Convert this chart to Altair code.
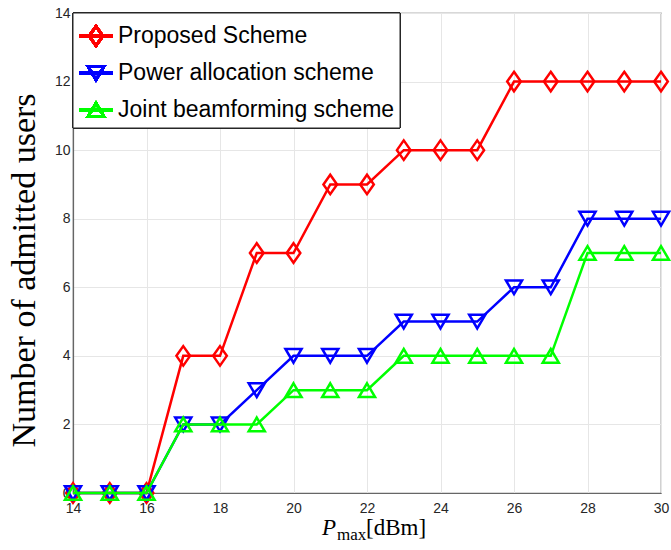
import altair as alt
import pandas as pd

x_vals = list(range(14, 31))
proposed = [0, 0, 0, 4, 4, 7, 7, 9, 9, 10, 10, 10, 12, 12, 12, 12, 12]
power = [0, 0, 0, 2, 2, 3, 4, 4, 4, 5, 5, 5, 6, 6, 8, 8, 8]
joint = [0, 0, 0, 2, 2, 2, 3, 3, 3, 4, 4, 4, 4, 4, 7, 7, 7]

names = ["Proposed Scheme", "Power allocation scheme", "Joint beamforming scheme"]
colors = ["#FF0000", "#0000FF", "#00FF00"]
shapes = [
    "M0,-1L0.7,0L0,1L-0.7,0Z",
    "M0,0.85L1,-0.85L-1,-0.85Z",
    "M0,-0.85L1,0.85L-1,0.85Z",
]
sizes = [380, 260, 260]

rows = []
for name, ys in zip(names, [proposed, power, joint]):
    for xv, yv in zip(x_vals, ys):
        rows.append({"x": xv, "y": yv, "series": name})
df = pd.DataFrame(rows)

W, H = 588, 480
xs = alt.X("x:Q", scale=alt.Scale(domain=[14, 30], nice=False),
           axis=alt.Axis(values=list(range(14, 31, 2)), title=None, grid=True,
                         labelFont="Liberation Sans", labelFontSize=14, labelColor="#262626",
                         labelPadding=8, labelFlush=False, ticks=False, domainColor="#666666",
                         domainWidth=1.2, gridColor="#e6e6e6", gridWidth=1, format="d"))
ys = alt.Y("y:Q", scale=alt.Scale(domain=[0, 14], nice=False),
           axis=alt.Axis(values=list(range(0, 15, 2)), title="Number of admitted users",
                         titleFont="Liberation Serif", titleFontSize=34, titleFontWeight="normal",
                         titleColor="#000000", titleX=-49, titleY=257, titleAngle=-90,
                         titleBaseline="middle", titleAlign="center",
                         grid=True, labelFont="Liberation Sans", labelFontSize=14, labelColor="#262626",
                         labelPadding=3, labelFlush=False, ticks=False, domainColor="#666666",
                         domainWidth=1.2, gridColor="#e6e6e6", gridWidth=1, format="d"))

layers = []
for name, c, shp, sz in zip(names, colors, shapes, sizes):
    base = alt.Chart(df).transform_filter(alt.datum.series == name)
    layers.append(base.mark_line(color=c, strokeWidth=2.5).encode(x=xs, y=ys))
    layers.append(base.mark_point(shape=shp, size=sz, color=c, filled=False, strokeWidth=2.5,
                                  opacity=1).encode(x=xs, y=ys))

# legend
legend_box = alt.Chart(df).mark_rect(fill="white", stroke="#262626", strokeWidth=1).encode(
    x=alt.value(0), x2=alt.value(327), y=alt.value(0), y2=alt.value(115))
layers.append(legend_box)
leg_y = [23, 60, 97]
for name, c, shp, sz, ly in zip(names, colors, shapes, sizes, leg_y):
    layers.append(alt.Chart(df).mark_rule(color=c, strokeWidth=2.5).encode(
        x=alt.value(6), x2=alt.value(40), y=alt.value(ly)))
    layers.append(alt.Chart(df).mark_point(shape=shp, size=sz, color=c, filled=False,
                                           strokeWidth=2.5, opacity=1).encode(
        x=alt.value(23), y=alt.value(ly)))
    layers.append(alt.Chart(pd.DataFrame({"t": [name]})).mark_text(
        align="left", baseline="middle", font="Liberation Sans", fontSize=23, color="#000000").encode(
        text="t:N", x=alt.value(45), y=alt.value(ly)))

# x axis title: P_max[dBm]
layers.append(alt.Chart(pd.DataFrame({"t": ["P"]})).mark_text(
    align="left", baseline="alphabetic", font="Liberation Serif", fontStyle="italic", fontSize=23,
    color="#000000").encode(text="t:N", x=alt.value(249), y=alt.value(522)))
layers.append(alt.Chart(pd.DataFrame({"t": ["max"]})).mark_text(
    align="left", baseline="alphabetic", font="Liberation Serif", fontSize=17,
    color="#000000").encode(text="t:N", x=alt.value(264), y=alt.value(527)))
layers.append(alt.Chart(pd.DataFrame({"t": ["[dBm]"]})).mark_text(
    align="left", baseline="alphabetic", font="Liberation Serif", fontSize=23,
    color="#000000").encode(text="t:N", x=alt.value(293), y=alt.value(522)))

chart = alt.layer(*layers).properties(
    width=W, height=H, autosize="none",
    padding={"left": 73, "top": 13, "right": 10, "bottom": 57},
    background="white",
).configure_view(stroke="#666666", strokeWidth=1.2)

chart.save("out.html", embed_options={"renderer": "svg", "actions": False})
